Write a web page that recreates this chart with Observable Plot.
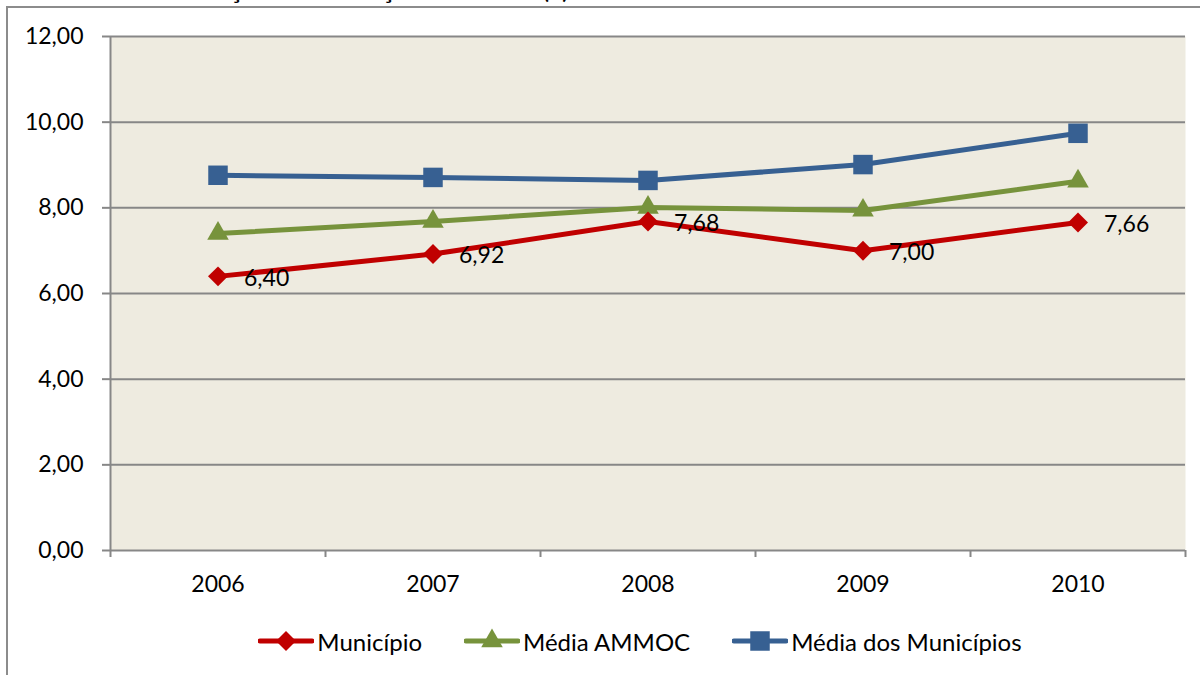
<!DOCTYPE html>
<html>
<head>
<meta charset="utf-8">
<script src="https://cdn.jsdelivr.net/npm/d3@7"></script>
<script src="https://cdn.jsdelivr.net/npm/@observablehq/plot@0.6"></script>
<style>
  html, body { margin: 0; padding: 0; background: #ffffff; }
  #wrap { position: relative; width: 1200px; height: 675px; overflow: hidden; font-family: Lato, "Open Sans", sans-serif; color: #000; }
  #title { position: absolute; left: 2px; top: -27px; font-size: 28px; line-height: 28px; white-space: nowrap; }
  #frame { position: absolute; left: 6px; top: 6px; width: 1300px; height: 800px; border-left: 2px solid #8c8c8c; border-top: 2px solid #8c8c8c; box-sizing: border-box; background: #fff; }
  #chart { position: absolute; left: 0; top: 0; }
  #legend { position: absolute; left: 0; top: 624px; width: 1280px; height: 34px; display: flex; justify-content: center; align-items: center; gap: 42px; font-size: 24px; }
  .item { display: flex; align-items: center; gap: 3px; }
  .item svg { display: block; }
</style>
</head>
<body>
<div id="wrap">
  <div id="title">Gráfico 36 – Evolução do Esforço Tributário (a) – 2006-2010</div>
  <div id="frame"></div>
  <div id="chart"></div>
  <div id="legend"></div>
</div>
<script>
// ---- data ----
const years = ["2006", "2007", "2008", "2009", "2010"];
const seriesNames = ["Município", "Média AMMOC", "Média dos Municípios"];
const municipio = [6.40, 6.92, 7.68, 7.00, 7.66];
const mediaAmmoc = [7.40, 7.68, 8.01, 7.94, 8.62];
const mediaMunicipios = [8.76, 8.71, 8.64, 9.01, 9.74];
const yTicks = [0, 2, 4, 6, 8, 10, 12];
const seriesColors = ["#C00000", "#77933C", "#376092"];
const seriesSymbols = ["diamond2", "triangle", "square"];
const seriesR = [9, 8, 11];

const fmt = d => d.toFixed(2).replace(".", ",");
const boundaries = d3.range(years.length + 1);
const centers = years.map((y, i) => i + 0.5);

const valuesBySeries = [municipio, mediaAmmoc, mediaMunicipios];
const rows = seriesNames.flatMap((s, si) =>
  years.map((y, i) => ({ series: s, year: y, xi: i + 0.5, value: valuesBySeries[si][i] }))
);

const grid = "#878787";
const drawOrder = [2, 1, 0];

const marks = [
  Plot.frame({ fill: "#EEEBE0", stroke: null }),
  Plot.ruleY(yTicks, { stroke: grid, strokeWidth: 2 }),
  Plot.ruleX([0], { stroke: grid, strokeWidth: 2 }),
  Plot.axisY({ ticks: yTicks, tickSize: 8, tickPadding: 19, tickFormat: fmt, stroke: grid, strokeWidth: 2, fill: "#000", fontSize: 23, label: null }),
  Plot.axisX({ ticks: boundaries, tickSize: 7, tickFormat: () => "", stroke: grid, strokeWidth: 2, label: null }),
  Plot.axisX({ ticks: centers, tickSize: 0, tickPadding: 25, tickFormat: d => years[Math.floor(d)], fill: "#000", fontSize: 23, label: null })
];

for (const si of drawOrder) {
  const data = rows.filter(d => d.series === seriesNames[si]);
  marks.push(Plot.line(data, { x: "xi", y: "value", stroke: seriesColors[si], strokeWidth: 5 }));
  marks.push(Plot.dot(data, { x: "xi", y: "value", symbol: () => seriesSymbols[si], r: seriesR[si], fill: seriesColors[si], stroke: null }));
}
marks.push(Plot.text(rows.filter(d => d.series === seriesNames[0]), {
  x: "xi", y: "value", text: d => fmt(d.value), textAnchor: "start", dx: 26, dy: 2, fontSize: 23, fill: "#000"
}));

const chart = Plot.plot({
  width: 1200,
  height: 600,
  marginLeft: 110,
  marginRight: 15,
  marginTop: 36,
  marginBottom: 50,
  style: { background: "transparent", fontFamily: "Lato, 'Open Sans', sans-serif", fontSize: "23px", color: "#000", overflow: "visible" },
  x: { domain: [0, years.length], axis: null, label: null },
  y: { domain: [0, 12], axis: null, label: null },
  symbol: { type: "identity" },
  marks
});
document.getElementById("chart").appendChild(chart);

// ---- legend ----
const legend = d3.select("#legend");
seriesNames.forEach((name, si) => {
  const item = legend.append("div").attr("class", "item");
  const svg = item.append("svg").attr("width", 56).attr("height", 26);
  svg.append("line").attr("x1", 2).attr("x2", 54).attr("y1", 13).attr("y2", 13)
    .attr("stroke", seriesColors[si]).attr("stroke-width", 5).attr("stroke-linecap", "round");
  const symMap = { diamond2: d3.symbolDiamond2, triangle: d3.symbolTriangle, square: d3.symbolSquare };
  const r = seriesR[si];
  svg.append("path").attr("transform", "translate(28,13)")
    .attr("d", d3.symbol(symMap[seriesSymbols[si]], Math.PI * r * r)())
    .attr("fill", seriesColors[si]);
  item.append("span").text(name);
});
</script>
</body>
</html>
